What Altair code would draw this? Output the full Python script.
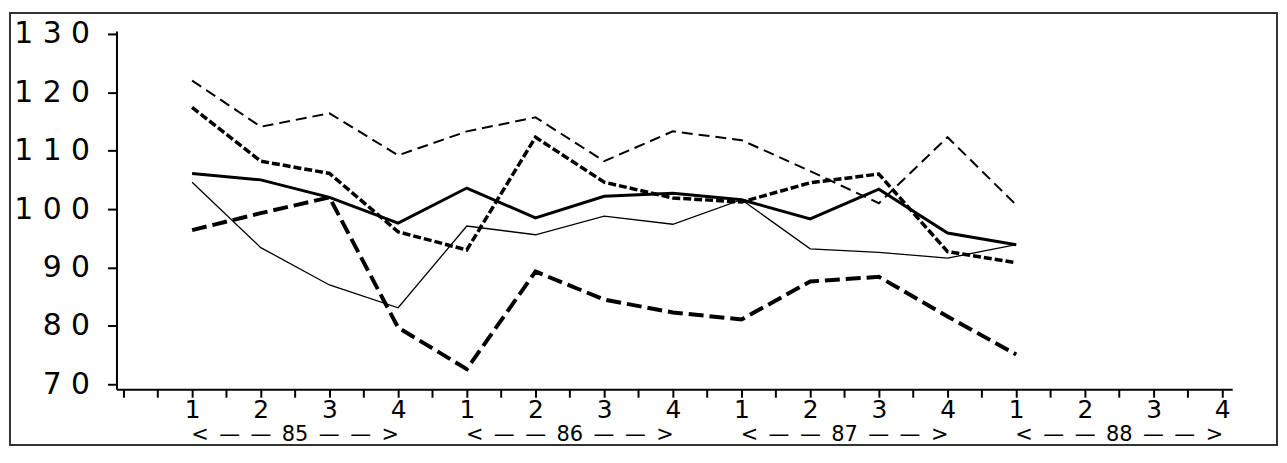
import altair as alt
import pandas as pd

# quarters 85Q1 .. 88Q1
quarters = ["1", "2", "3", "4"]
years = ["85", "86", "87", "88"]
y_ticks = [70, 80, 90, 100, 110, 120, 130]

thin_dash = [122.0, 114.1, 116.4, 109.2, 113.3, 115.7, 108.2, 113.3, 111.8, 106.5, 101.0, 112.3, 100.7]
short_dash = [117.4, 108.2, 106.1, 96.1, 93.0, 112.3, 104.6, 101.9, 101.2, 104.5, 106.0, 92.7, 90.8]
long_dash = [96.4, 99.3, 102.0, 79.7, 72.6, 89.3, 84.5, 82.3, 81.1, 87.6, 88.4, 81.6, 75.1]
thick_solid = [106.1, 105.0, 102.0, 97.6, 103.6, 98.5, 102.2, 102.7, 101.6, 98.3, 103.4, 95.9, 93.9]
thin_solid = [104.6, 93.4, 87.0, 83.1, 97.1, 95.6, 98.8, 97.4, 101.6, 93.2, 92.6, 91.6, 93.9]

font = "DejaVu Sans"

x_enc = alt.X(
    "q:Q",
    title="",
    scale=alt.Scale(domain=[-1.101, 15.145], nice=False, zero=False),
    axis=alt.Axis(
        values=[i / 2 for i in range(-2, 31)],
        labelExpr="datum.value >= 0 && datum.value == floor(datum.value) ? "
        + str(quarters) + "[datum.value % 4] : ''",
        labelOverlap=False,
        labelFlush=False,
        labelFontSize=25,
        tickSize=8,
        labelPadding=0,
        grid=False,
    ),
)
y_enc = alt.Y(
    "v:Q",
    title="",
    scale=alt.Scale(domain=[69.15, 130.5], nice=False, zero=False),
    axis=alt.Axis(
        values=y_ticks,
        labelExpr="join(split(datum.label, ''), ' ')",
        tickSize=9,
        labelPadding=18,
        grid=False,
    ),
)

styles = [
    (thin_dash, {"strokeWidth": 2, "strokeDash": [11, 6]}),
    (short_dash, {"strokeWidth": 3.5, "strokeDash": [8, 3]}),
    (long_dash, {"strokeWidth": 4, "strokeDash": [15, 6]}),
    (thick_solid, {"strokeWidth": 3}),
    (thin_solid, {"strokeWidth": 1.3}),
]

layers = []
for values, style in styles:
    df = pd.DataFrame({"q": list(range(len(values))), "v": values})
    layers.append(
        alt.Chart(df).mark_line(color="black", **style).encode(x=x_enc, y=y_enc)
    )

# year captions under each group of four quarters
sp = "\u2002"
year_df = pd.DataFrame({
    "q": [1.5 + 4 * i for i in range(len(years))],
    "label": [sp.join(["<", "—", "—", y, "—", "—", ">"]) for y in years],
})
year_text = alt.Chart(year_df).mark_text(
    font=font, fontSize=21, color="black", baseline="middle", align="center"
).encode(x=x_enc, y=alt.value(406), text="label:N")

frame = alt.Chart(pd.DataFrame({"a": [0]})).mark_rect(
    filled=False, stroke="#333333", strokeWidth=2
).encode(x=alt.value(-107), x2=alt.value(1166), y=alt.value(-18), y2=alt.value(416))

chart = alt.layer(frame, *layers, year_text).properties(
    width=1121,
    height=360,
    autosize=alt.AutoSizeParams(type="none"),
    padding={"left": 109, "top": 22, "right": 47, "bottom": 58},
    background="white",
).configure_view(
    strokeWidth=0
).configure_axis(
    domainColor="black",
    domainWidth=2,
    tickColor="black",
    tickWidth=2,
    labelColor="black",
    labelFont=font,
    labelFontSize=30,
)

chart.save("out.html", embed_options={"renderer": "svg", "actions": False})
